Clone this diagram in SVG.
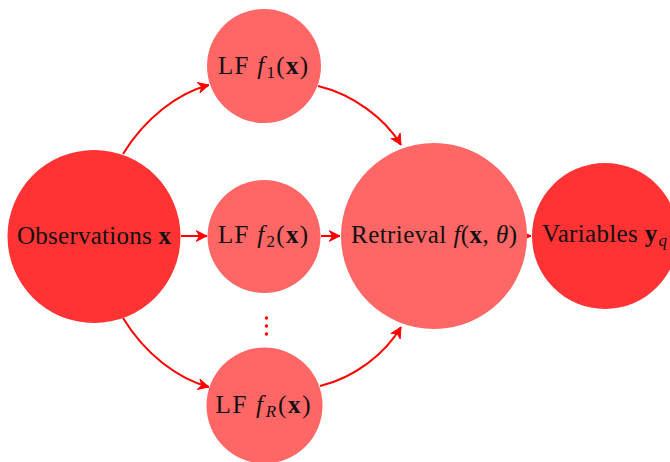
<svg xmlns="http://www.w3.org/2000/svg" width="670" height="462" viewBox="0 0 670 462">
<style>
  .dark { fill: #ff3333; }
  .light { fill: #ff6666; }
  .lbl { font-family: "Liberation Serif", "Times New Roman", serif; font-size: 25px; fill: #111; text-anchor: middle; }
  .it { font-style: italic; }
  .bf { font-weight: bold; }
  .sub { font-size: 17px; }
  .edge { fill: none; stroke: #ff0000; stroke-width: 2; marker-end: url(#arr); }
</style>
<defs>
  <marker id="arr" markerUnits="userSpaceOnUse" markerWidth="14" markerHeight="14" viewBox="-11 -6 13 12" refX="0" refY="0" orient="auto">
    <path d="M0,0 L-10,-5 L-7,0 L-10,5 Z" fill="#ff0000" stroke="#ff0000" stroke-width="0.8" stroke-linejoin="miter"/>
  </marker>
</defs>
<rect width="670" height="462" fill="#ffffff"/>

<g id="connectors">
  <path class="edge" d="M123,154 C145,118 178,93 209,85"/>
  <path class="edge" d="M318,86 C352,94 385,118 401,145"/>
  <path class="edge" d="M181,236 L207,236"/>
  <path class="edge" d="M321,236 L340,236"/>
  <path class="edge" d="M526,236 L531,236"/>
  <path class="edge" d="M123,318 C145,354 178,379 209,387"/>
  <path class="edge" d="M320,386 C354,378 385,354 401,327"/>
</g>

<g id="obs">
  <circle class="dark" cx="94" cy="236.5" r="86.5"/>
  <text class="lbl" x="94" y="244" textLength="154" lengthAdjust="spacing">Observations <tspan class="bf">x</tspan></text>
</g>

<g id="lf1">
  <circle class="light" cx="264" cy="66" r="57"/>
  <text class="lbl" x="263" y="74" textLength="90" lengthAdjust="spacing">LF <tspan class="it">f</tspan><tspan class="sub" dx="1" dy="4">1</tspan><tspan dy="-4">(</tspan><tspan class="bf">x</tspan>)</text>
</g>

<g id="lf2">
  <circle class="light" cx="264" cy="236.5" r="56.5"/>
  <text class="lbl" x="263" y="243" textLength="90" lengthAdjust="spacing">LF <tspan class="it">f</tspan><tspan class="sub" dx="1" dy="4">2</tspan><tspan dy="-4">(</tspan><tspan class="bf">x</tspan>)</text>
</g>

<g id="dots">
  <circle cx="266.5" cy="318" r="1.7" fill="#ff0000"/>
  <circle cx="266.5" cy="326" r="1.7" fill="#ff0000"/>
  <circle cx="266.5" cy="334" r="1.7" fill="#ff0000"/>
</g>

<g id="lfR">
  <circle class="light" cx="264.5" cy="405.5" r="58"/>
  <text class="lbl" x="263" y="413" textLength="95" lengthAdjust="spacing">LF <tspan class="it">f</tspan><tspan class="sub it" dx="1" dy="4">R</tspan><tspan dy="-4">(</tspan><tspan class="bf">x</tspan>)</text>
</g>

<g id="retrieval">
  <circle class="light" cx="434" cy="236" r="93"/>
  <text class="lbl" x="434" y="242.5" textLength="166" lengthAdjust="spacing">Retrieval <tspan class="it">f</tspan>(<tspan class="bf">x</tspan>, <tspan class="it">θ</tspan>)</text>
</g>

<g id="variables">
  <circle class="dark" cx="605" cy="236" r="73"/>
  <text class="lbl" x="604.5" y="242" textLength="125" lengthAdjust="spacing">Variables <tspan class="bf">y</tspan><tspan class="sub it" dx="1" dy="4">q</tspan></text>
</g>
</svg>
